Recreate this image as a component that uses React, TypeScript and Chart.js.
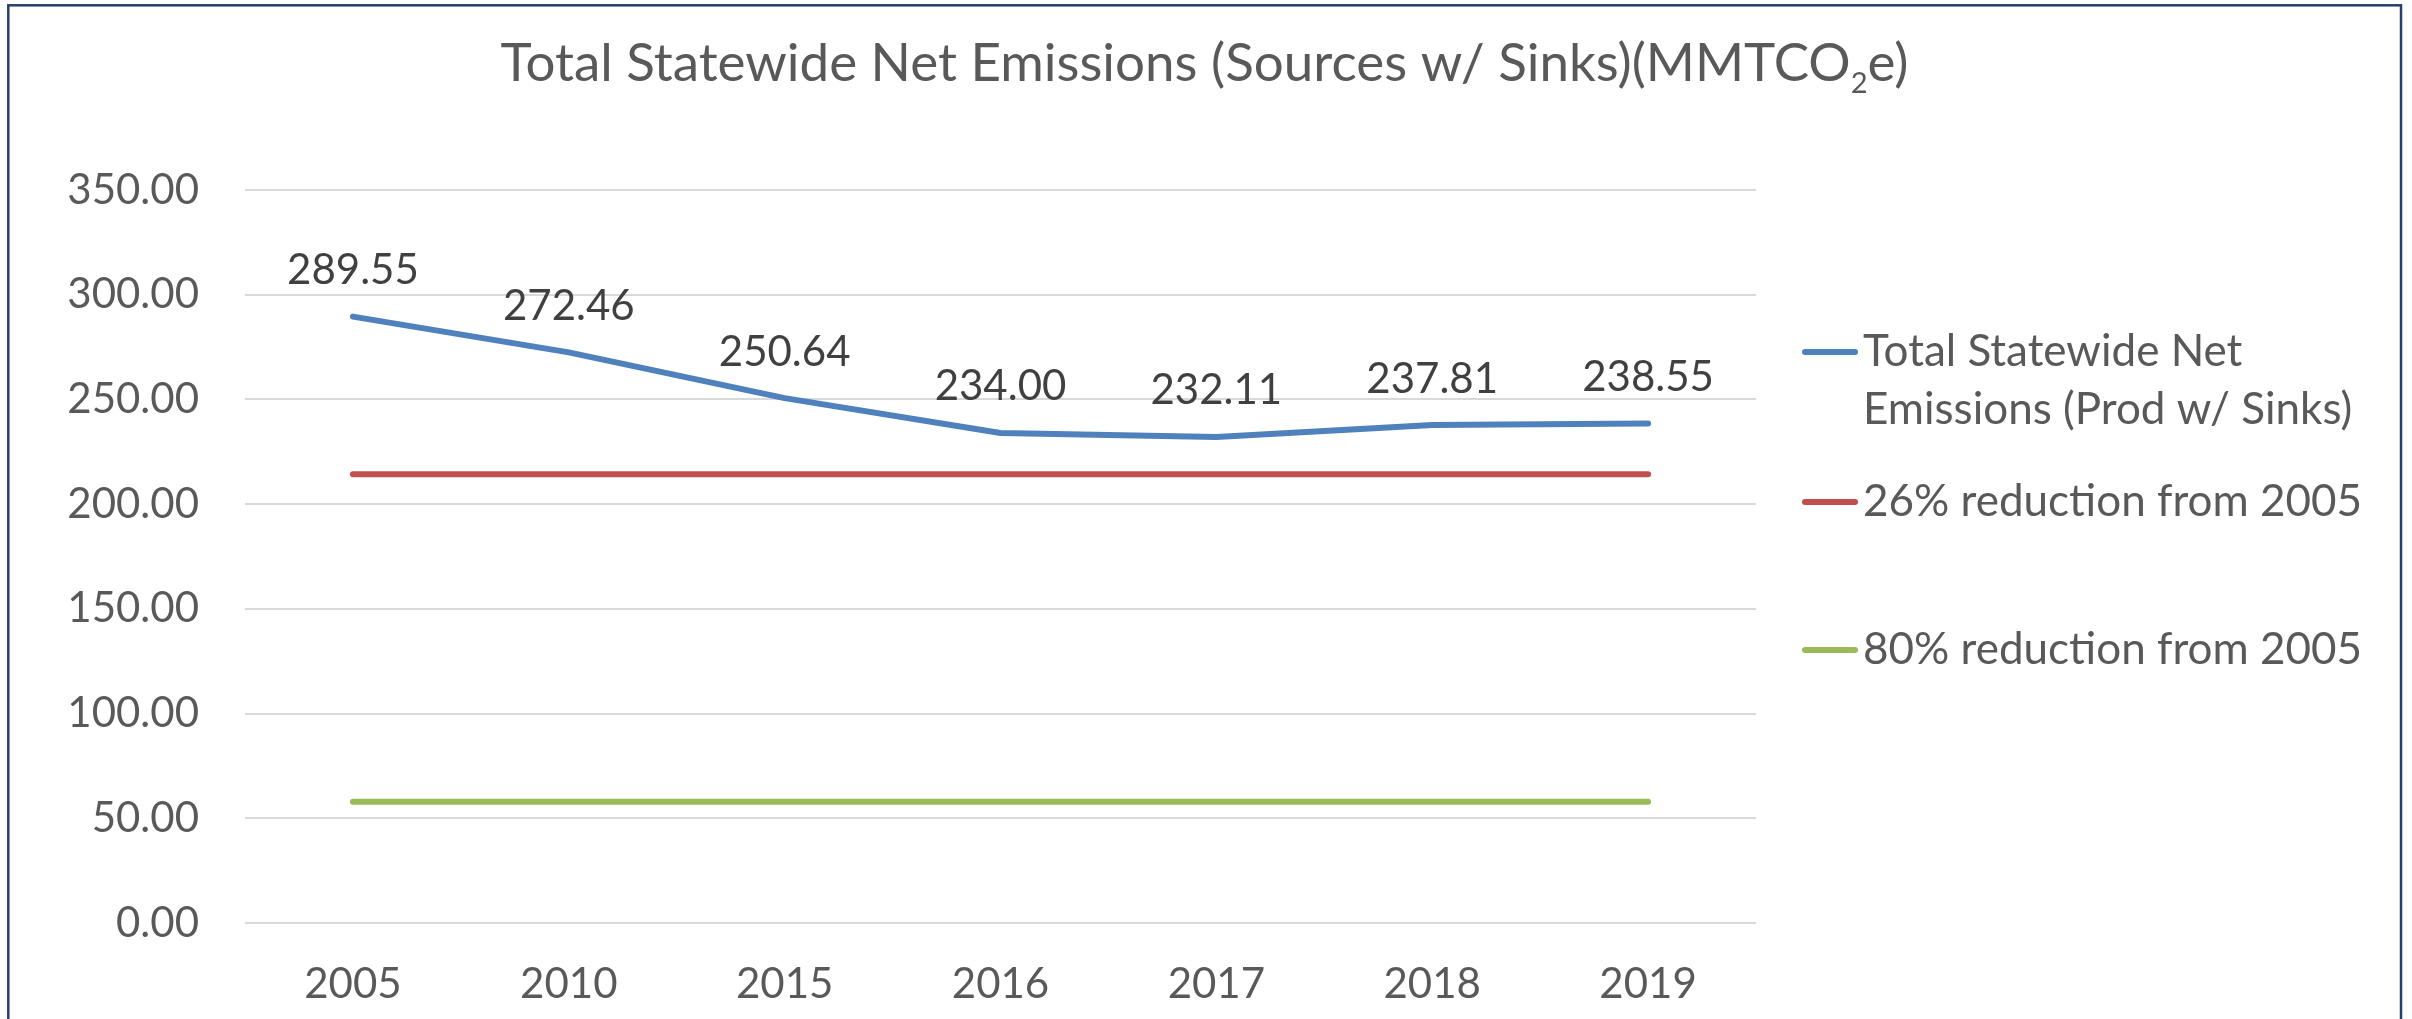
import React, { useEffect, useRef } from 'react';
import { Chart, registerables } from 'chart.js';

Chart.register(...registerables);

// ---- data ----
const YEARS = ['2005', '2010', '2015', '2016', '2017', '2018', '2019'];
const NET_EMISSIONS = [289.55, 272.46, 250.64, 234.0, 232.11, 237.81, 238.55];
const TARGET_26 = [214.27, 214.27, 214.27, 214.27, 214.27, 214.27, 214.27];
const TARGET_80 = [57.91, 57.91, 57.91, 57.91, 57.91, 57.91, 57.91];
const SERIES_LABELS = [
  'Total Statewide Net Emissions (Prod w/ Sinks)',
  '26% reduction from 2005',
  '80% reduction from 2005',
];
const SERIES_COLORS = ['#4F81BD', '#C0504D', '#9BBB59'];
const Y_MIN = 0;
const Y_MAX = 350;
const Y_STEP = 50;
const TITLE_MAIN = 'Total Statewide Net Emissions (Sources w/ Sinks)(MMTCO';
const TITLE_SUB = '2';
const TITLE_END = 'e)';

// ---- style ----
const FONT = "Lato, 'Open Sans', sans-serif";
const TEXT = '#595959';
const LABEL_TEXT = '#404040';

const framePlugin = {
  id: 'frame',
  beforeDraw(chart: any) {
    const ctx = chart.ctx;
    ctx.save();
    ctx.fillStyle = '#ffffff';
    ctx.fillRect(0, 0, chart.width, chart.height);
    ctx.strokeStyle = '#24406F';
    ctx.lineWidth = 2.5;
    ctx.strokeRect(8.3, 5.3, 2392.7, 1200);
    ctx.restore();
  },
};

const titlePlugin = {
  id: 'customTitle',
  afterDraw(chart: any) {
    const ctx = chart.ctx;
    ctx.save();
    const targetWidth = 1408;
    const baseSize = 52;
    const subRatio = 0.55;
    const weight = 400;
    const measure = (size: number) => {
      ctx.font = `${weight} ${size}px ${FONT}`;
      const a = ctx.measureText(TITLE_MAIN).width + ctx.measureText(TITLE_END).width;
      ctx.font = `${weight} ${size * subRatio}px ${FONT}`;
      const b = ctx.measureText(TITLE_SUB).width;
      return a + b;
    };
    const size = baseSize * targetWidth / measure(baseSize);
    const total = measure(size);
    const cx = 1204.5;
    const baseline = 81;
    let x = cx - total / 2;
    ctx.fillStyle = TEXT;
    ctx.textAlign = 'left';
    ctx.textBaseline = 'alphabetic';
    ctx.font = `${weight} ${size}px ${FONT}`;
    ctx.fillText(TITLE_MAIN, x, baseline);
    x += ctx.measureText(TITLE_MAIN).width;
    ctx.font = `${weight} ${size * subRatio}px ${FONT}`;
    ctx.fillText(TITLE_SUB, x, baseline + 12);
    x += ctx.measureText(TITLE_SUB).width;
    ctx.font = `${weight} ${size}px ${FONT}`;
    ctx.fillText(TITLE_END, x, baseline);
    ctx.restore();
  },
};

const dataLabelPlugin = {
  id: 'dataLabels',
  afterDatasetsDraw(chart: any) {
    const ctx = chart.ctx;
    const meta = chart.getDatasetMeta(0);
    const values = chart.data.datasets[0].data as number[];
    ctx.save();
    ctx.font = `42px ${FONT}`;
    ctx.fillStyle = LABEL_TEXT;
    ctx.textAlign = 'center';
    ctx.textBaseline = 'middle';
    meta.data.forEach((pt: any, i: number) => {
      ctx.fillText(values[i].toFixed(2), pt.x, pt.y - 46);
    });
    ctx.restore();
  },
};

const legendPlugin = {
  id: 'sideLegend',
  afterDraw(chart: any) {
    const ctx = chart.ctx;
    const rowsY = [352, 502, 650];
    const lineX1 = 1805;
    const lineX2 = 1855;
    const textX = 1863;
    const lineGap = 58;
    const maxW = 530;
    ctx.save();
    ctx.font = `44px ${FONT}`;
    ctx.textAlign = 'left';
    ctx.textBaseline = 'middle';
    chart.data.datasets.forEach((ds: any, i: number) => {
      const y = rowsY[i];
      ctx.strokeStyle = ds.borderColor;
      ctx.lineWidth = 6;
      ctx.lineCap = 'round';
      ctx.beginPath();
      ctx.moveTo(lineX1, y);
      ctx.lineTo(lineX2, y);
      ctx.stroke();
      const words = String(ds.label).split(' ');
      const lines: string[] = [];
      let cur = '';
      words.forEach((w) => {
        const t = cur ? cur + ' ' + w : w;
        if (ctx.measureText(t).width > maxW && cur) {
          lines.push(cur);
          cur = w;
        } else {
          cur = t;
        }
      });
      if (cur) lines.push(cur);
      ctx.fillStyle = TEXT;
      lines.forEach((ln, j) => ctx.fillText(ln, textX, y + j * lineGap));
    });
    ctx.restore();
  },
};

export default function App() {
  const ref = useRef<HTMLCanvasElement>(null);

  useEffect(() => {
    if (!ref.current) return;
    const mk = (i: number, data: number[]) => ({
      label: SERIES_LABELS[i],
      data,
      borderColor: SERIES_COLORS[i],
      backgroundColor: SERIES_COLORS[i],
      borderWidth: 6,
      pointRadius: 0,
      pointHoverRadius: 0,
      tension: 0,
      borderCapStyle: 'round' as const,
      borderJoinStyle: 'round' as const,
      fill: false,
    });
    const chart = new Chart(ref.current, {
      type: 'line',
      data: {
        labels: YEARS,
        datasets: [mk(0, NET_EMISSIONS), mk(1, TARGET_26), mk(2, TARGET_80)],
      },
      options: {
        animation: false,
        responsive: false,
        devicePixelRatio: 1,
        layout: { padding: { top: 190, right: 656, bottom: 0, left: 0 } },
        plugins: {
          legend: { display: false },
          title: { display: false },
          tooltip: { enabled: false },
        },
        scales: {
          x: {
            type: 'category',
            offset: true,
            grid: { display: false, drawTicks: false },
            border: { display: false },
            ticks: {
              color: TEXT,
              font: { family: FONT, size: 42 },
              padding: 36,
              maxRotation: 0,
              autoSkip: false,
            },
            afterFit: (s: any) => {
              s.height = 96;
            },
          },
          y: {
            min: Y_MIN,
            max: Y_MAX,
            grid: { color: '#D9D9D9', lineWidth: 2, drawTicks: false },
            border: { display: false },
            ticks: {
              stepSize: Y_STEP,
              color: TEXT,
              font: { family: FONT, size: 42 },
              padding: 46,
              callback: (v: any) => Number(v).toFixed(2),
            },
            afterFit: (s: any) => {
              s.width = 245;
            },
          },
        },
      },
      plugins: [framePlugin, dataLabelPlugin, legendPlugin, titlePlugin],
    });
    return () => chart.destroy();
  }, []);

  return (
    <div style={{ position: 'absolute', left: 0, top: 0, width: 2412, height: 1019, background: '#fff' }}>
      <canvas ref={ref} width={2412} height={1019} style={{ display: 'block', width: 2412, height: 1019 }} />
    </div>
  );
}
